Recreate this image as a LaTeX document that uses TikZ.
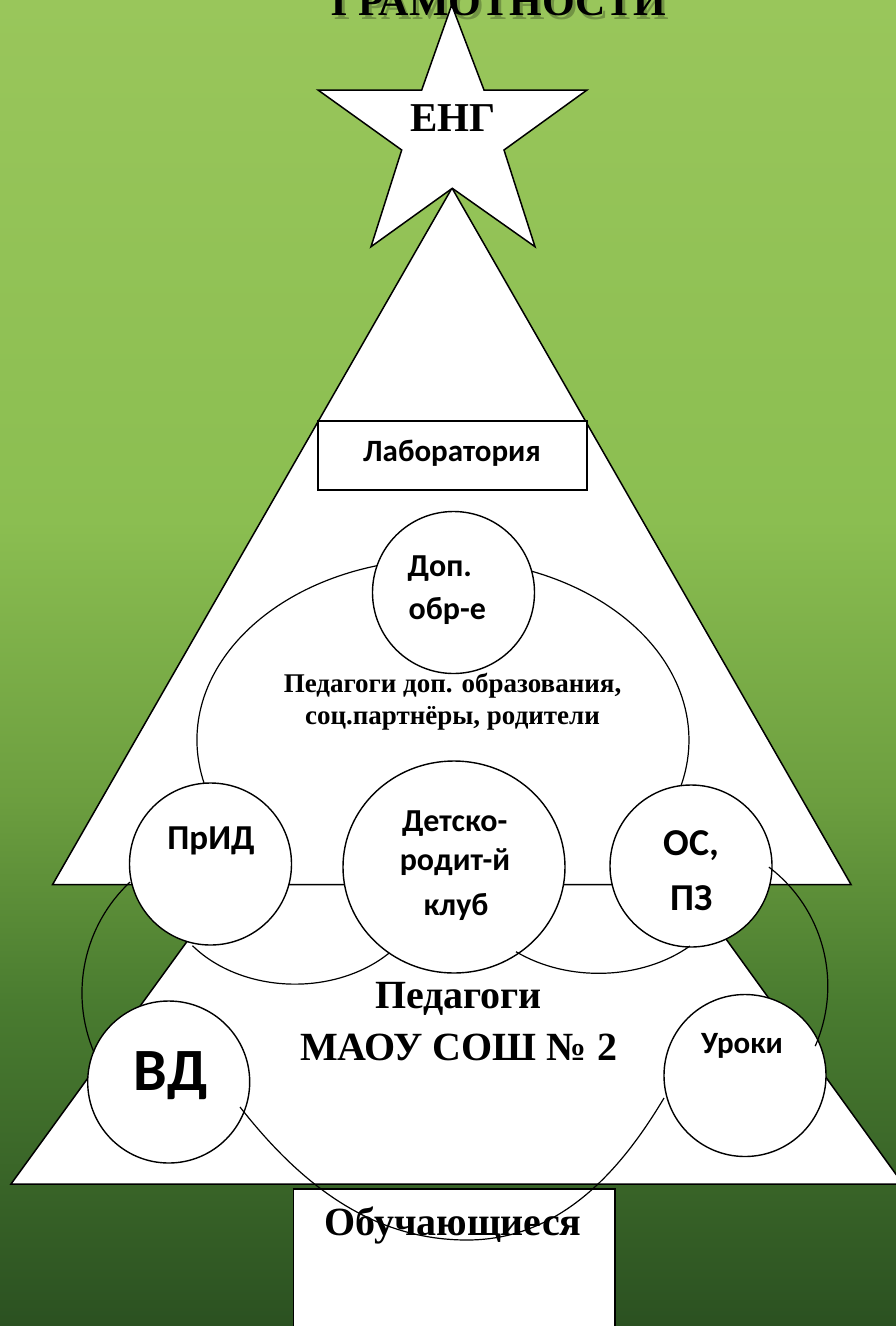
\documentclass[tikz,border=0pt]{standalone}
\usepackage{fontspec}
\setmainfont{Liberation Serif}
\newfontfamily\calibfont{Carlito}
\usetikzlibrary{shapes.geometric}
\definecolor{gA}{HTML}{99C65B}
\definecolor{gB}{HTML}{8BBE51}
\definecolor{gC}{HTML}{6C9E3F}
\definecolor{gD}{HTML}{4A7C30}
\definecolor{gE}{HTML}{2B5121}
\begin{document}
\begin{tikzpicture}[x=1pt,y=-1pt,
  treeshape/.style={fill=white,draw=black,line width=1.5pt,line join=miter},
  circ/.style={circle,fill=white,draw=black,line width=1.4pt,minimum size=162pt,inner sep=0pt},
  arcline/.style={draw=black,line width=1.2pt},
  serif/.style={font=\fontsize{#1}{#1}\selectfont\bfseries,inner sep=0pt,anchor=base},
  sans/.style={font=\calibfont\fontsize{#1}{#1}\selectfont\bfseries,inner sep=0pt,anchor=base}]
\useasboundingbox (0,0) rectangle (896,1326);
\clip (0,0) rectangle (896,1326);
% background
\shade[top color=gA,bottom color=gB] (0,0) rectangle (896,521);
\shade[top color=gB,bottom color=gC] (0,520) rectangle (896,801);
\shade[top color=gC,bottom color=gD] (0,800) rectangle (896,1001);
\shade[top color=gD,bottom color=gE] (0,1000) rectangle (896,1326);
% title
\node[serif=42,text=black,opacity=0.25] (titleshadow) at (502,19) {ГРАМОТНОСТИ};
\node[serif=42] (title) at (499,15) {ГРАМОТНОСТИ};
% lower tier of the tree and trunk
\draw[treeshape] (458,568) -- (903,1184) -- (11,1184) -- cycle;
\node[draw=black,fill=white,line width=1.4pt,minimum width=321.6pt,minimum height=160pt,inner sep=0pt,anchor=north west] (trunk) at (292.7,1188.3) {};
% upper tier
\draw[treeshape] (452,188) -- (851,884.5) -- (52.6,884.5) -- cycle;
% star
\draw[treeshape] (451.7,5) -- (484,90) -- (587,90) -- (504,150) -- (535,246.7) -- (452.3,188.3) -- (371,246.7) -- (401.7,150) -- (318,90) -- (421.7,90) -- cycle;
% laboratory box
\node[draw=black,fill=white,line width=1.3pt,minimum width=269pt,minimum height=69pt,inner sep=0pt] (lab) at (452.5,455.5) {};
% upper large arc
\draw[arcline] (204.0,782.9) arc[start angle=166.3,end angle=375.7,x radius=246,y radius=181];
\node[circ] (dop) at (453.5,592.5) {};
% left lower small arc
\draw[arcline] (192.5,945.7) arc[start angle=142,end angle=42,x radius=130,y radius=100];
\node[circ] (prid) at (210.5,864) {};
\node[ellipse,fill=white,draw=black,line width=1.4pt,minimum width=222pt,minimum height=212pt,inner sep=0pt] (club) at (454,867) {};
\node[circ] (os) at (691,866) {};
% right lower small arc
\draw[arcline] (516.0,951.7) arc[start angle=128.4,end angle=46.6,x radius=133,y radius=100];
\node[circ] (vd) at (168.7,1082) {};
\node[circ] (lessons) at (745,1075.5) {};
% side arcs
\draw[arcline] (130.1,882.0) arc[start angle=226.9,end angle=157.1,radius=152];
\draw[arcline] (768.9,867.1) arc[start angle=-52.7,end angle=23.7,radius=149.5];
% texts
\node[serif=41] (eng) at (453.3,131.7) {ЕНГ};
\node[sans=31] (labtxt) at (452,461) {Лаборатория};
\node[sans=32,anchor=base west] (dop1) at (407.5,576) {Доп.};
\node[sans=32,anchor=base west] (dop2) at (408.5,619) {обр-е};
\node[serif=27] (ped1) at (452.5,692.7) {Педагоги доп. образования,};
\node[serif=27] (ped2) at (452.5,724) {соц.партнёры, родители};
\node[sans=35] (pridtxt) at (211,849.3) {ПрИД};
\node[sans=32] (club1) at (454.7,831.7) {Детско-};
\node[sans=32] (club2) at (455,870) {родит-й};
\node[sans=32] (club3) at (456,915) {клуб};
\node[sans=38] (os1) at (691.5,855) {ОС,};
\node[sans=38] (os2) at (692,910.7) {ПЗ};
\node[serif=40] (sch1) at (458.5,1008) {Педагоги};
\node[serif=40] (sch2) at (458.5,1060) {МАОУ СОШ № 2};
\node[sans=60] (vdtxt) at (170.4,1090) {ВД};
\node[sans=31] (urtxt) at (742,1053.3) {Уроки};
\node[serif=40] (pupils) at (453,1235) {Обучающиеся};
% bottom arc
\draw[arcline] (240,1107) .. controls (295.8,1178.1) and (367,1240) .. (467,1240)
  .. controls (557,1240) and (618,1175.4) .. (664,1098);
\end{tikzpicture}
\end{document}
